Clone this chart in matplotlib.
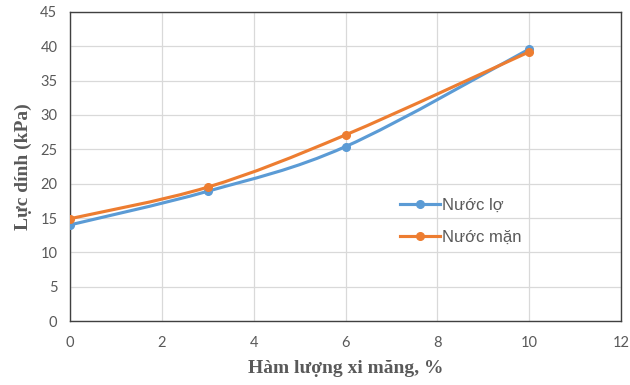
import numpy as np
import matplotlib.pyplot as plt
from matplotlib.path import Path
from matplotlib.patches import PathPatch
from matplotlib.lines import Line2D

# ham luong xi mang (%) and luc dinh (kPa)
cement = [0, 3, 6, 10]
nuoc_lo = [14.0, 18.9, 25.4, 39.6]
nuoc_man = [14.9, 19.5, 27.1, 39.2]

labels = ["Nước lợ", "Nước mặn"]
colors = ["#5B9BD5", "#ED7D31"]
x_ticks = [0, 2, 4, 6, 8, 10, 12]
y_ticks = [0, 5, 10, 15, 20, 25, 30, 35, 40, 45]


def smooth_path(x, y):
    # bezier through the points, control points as in a Catmull-Rom spline
    pts = np.column_stack([x, y]).astype(float)
    n = len(pts)
    verts = [pts[0]]
    codes = [Path.MOVETO]
    for i in range(n - 1):
        p0 = pts[i - 1] if i > 0 else pts[i]
        p1 = pts[i]
        p2 = pts[i + 1]
        p3 = pts[i + 2] if i + 2 < n else pts[i + 1]
        c1 = p1 + (p2 - p0) / 6.0
        c2 = p2 - (p3 - p1) / 6.0
        verts += [c1, c2, p2]
        codes += [Path.CURVE4] * 3
    return Path(verts, codes)


fig = plt.figure(figsize=(6.3, 3.85), dpi=100)
ax = fig.add_axes([0.111, 0.166, 0.875, 0.803])

for ys, c, lab in zip([nuoc_lo, nuoc_man], colors, labels):
    patch = PathPatch(smooth_path(cement, ys), facecolor="none", edgecolor=c,
                      lw=2.25, capstyle="round", zorder=3)
    ax.add_patch(patch)
    ax.plot(cement, ys, "o", color=c, ms=5.5, zorder=4)

ax.set_xlim(0, 12)
ax.set_ylim(0, 45)
ax.set_xticks(x_ticks)
ax.set_yticks(y_ticks)
ax.grid(True, color="#d9d9d9", lw=0.9)
ax.set_axisbelow(True)
for s in ax.spines.values():
    s.set_color("#404040")
    s.set_linewidth(1.0)
ax.tick_params(length=0, labelsize=10.5, labelcolor="#595959")
ax.tick_params(axis="y", pad=9)
ax.tick_params(axis="x", pad=11)
for t in ax.get_xticklabels() + ax.get_yticklabels():
    t.set_family("Lato")

ax.set_xlabel("Hàm lượng xi măng, %", family="Liberation Serif",
              fontweight="bold", fontsize=14, color="#595959", labelpad=7)
ax.set_ylabel("Lực dính (kPa)", family="Liberation Serif",
              fontweight="bold", fontsize=14, color="#595959", labelpad=6)

handles = [Line2D([], [], color=c, lw=2.25, marker="o", ms=5.5) for c in colors]
leg = ax.legend(handles, labels, loc="upper left", bbox_to_anchor=(0.599, 0.399),
                frameon=False, handlelength=2.4, handletextpad=0.1,
                labelspacing=1.0, borderpad=0, borderaxespad=0,
                prop={"family": "Liberation Sans", "size": 12})
for t in leg.get_texts():
    t.set_color("#595959")

fig.savefig("out.png", dpi=100)
